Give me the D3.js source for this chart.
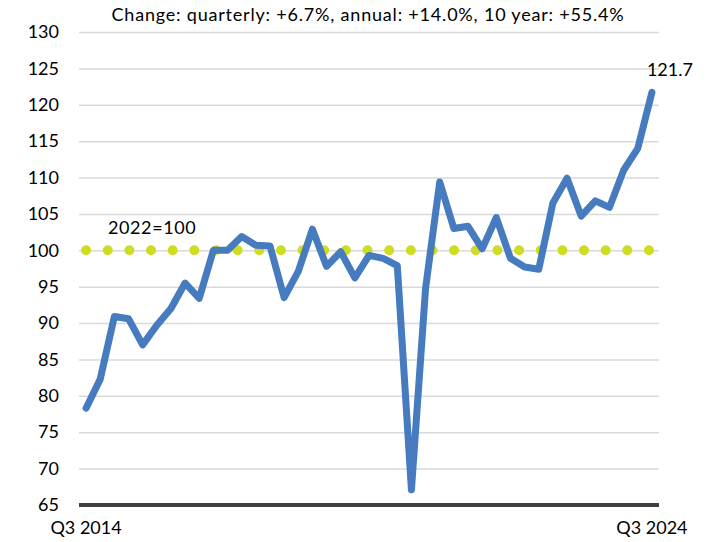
<!DOCTYPE html>
<html>
<head>
<meta charset="utf-8">
<script src="https://cdn.jsdelivr.net/npm/d3@7"></script>
<style>
  body { margin: 0; background: #fff; }
  svg text { font-family: Lato, "Open Sans", sans-serif; fill: #000; }
</style>
</head>
<body>
<div id="chart"></div>
<script>
const title = 'Change: quarterly: +6.7%, annual: +14.0%, 10 year: +55.4%';

// Q3 2014 .. Q3 2024
const quarters = [];
for (let y = 2014; y <= 2024; y++) {
    for (let q = 1; q <= 4; q++) {
        if ((y === 2014 && q < 3) || (y === 2024 && q > 3)) continue;
        quarters.push(`Q${q} ${y}`);
    }
}

const index = [
    78.3, 82.3, 90.9, 90.6, 87.0, 89.7, 92.0, 95.5, 93.4, 100.0,
    100.0, 101.9, 100.7, 100.6, 93.5, 97.1, 102.9, 97.8, 99.8, 96.2,
    99.3, 98.9, 97.9, 67.1, 94.8, 109.4, 103.0, 103.3, 100.2, 104.5,
    98.9, 97.7, 97.4, 106.5, 109.9, 104.7, 106.8, 105.9, 111.0, 114.0,
    121.7
];

const baseValue = 100;
const baseLabel = '2022=100';
const yTicks = [65, 70, 75, 80, 85, 90, 95, 100, 105, 110, 115, 120, 125, 130];
const xTicks = ['Q3 2014', 'Q3 2024'];

const width = 713;
const height = 542;
const margin = { top: 32, right: 54, bottom: 37, left: 79 };

const svg = d3.select('#chart').append('svg')
    .attr('width', width)
    .attr('height', height);

const x = d3.scaleBand()
    .domain(quarters)
    .range([margin.left, width - margin.right]);

const px = d => x(d) + x.bandwidth() / 2;

const y = d3.scaleLinear()
    .domain([65, 130])
    .range([height - margin.bottom, margin.top]);

// gridlines + tick labels
const yAxis = svg.append('g')
    .attr('transform', `translate(${margin.left},0)`)
    .call(d3.axisLeft(y)
        .tickValues(yTicks)
        .tickSize(-(width - margin.left - margin.right))
        .tickPadding(20)
        .tickFormat(d3.format('d')));

yAxis.select('.domain').remove();
yAxis.selectAll('.tick line')
    .attr('stroke', '#d9d9d9')
    .attr('stroke-width', 1.5);
yAxis.selectAll('.tick text')
    .attr('font-size', 18)
    .attr('font-family', 'Lato, sans-serif');

// bottom axis line at 65
svg.append('line')
    .attr('x1', margin.left)
    .attr('x2', width - margin.right)
    .attr('y1', y(65))
    .attr('y2', y(65))
    .attr('stroke', '#3f3f3f')
    .attr('stroke-width', 4);

const xAxis = svg.append('g')
    .attr('transform', `translate(0,${y(65)})`)
    .call(d3.axisBottom(x)
        .tickValues(xTicks)
        .tickSize(0)
        .tickPadding(16));

xAxis.select('.domain').remove();
xAxis.selectAll('.tick text')
    .attr('font-size', 18)
    .attr('font-family', 'Lato, sans-serif');

// 2022=100 reference line (dotted)
svg.append('line')
    .attr('x1', px(quarters[0]))
    .attr('x2', px(quarters[quarters.length - 1]))
    .attr('y1', y(baseValue))
    .attr('y2', y(baseValue))
    .attr('stroke', '#cfdc24')
    .attr('stroke-width', 10)
    .attr('stroke-linecap', 'round')
    .attr('stroke-dasharray', '0,21.65');

svg.append('text')
    .attr('x', 108)
    .attr('y', y(baseValue) - 16)
    .attr('font-size', 18)
    .attr('letter-spacing', 0.6)
    .text(baseLabel);

// index line
const line = d3.line()
    .x((d, i) => px(quarters[i]))
    .y(d => y(d));

svg.append('path')
    .datum(index)
    .attr('fill', 'none')
    .attr('stroke', '#477bbf')
    .attr('stroke-width', 7)
    .attr('stroke-linejoin', 'round')
    .attr('stroke-linecap', 'round')
    .attr('d', line);

const last = index[index.length - 1];
svg.append('text')
    .attr('x', px(quarters[quarters.length - 1]) + 18)
    .attr('y', y(last) - 16)
    .attr('text-anchor', 'middle')
    .attr('font-size', 18)
    .text(last.toFixed(1));

svg.append('text')
    .attr('x', 368)
    .attr('y', 21)
    .attr('text-anchor', 'middle')
    .attr('font-size', 18)
    .attr('letter-spacing', 0.8)
    .text(title);
</script>
</body>
</html>
